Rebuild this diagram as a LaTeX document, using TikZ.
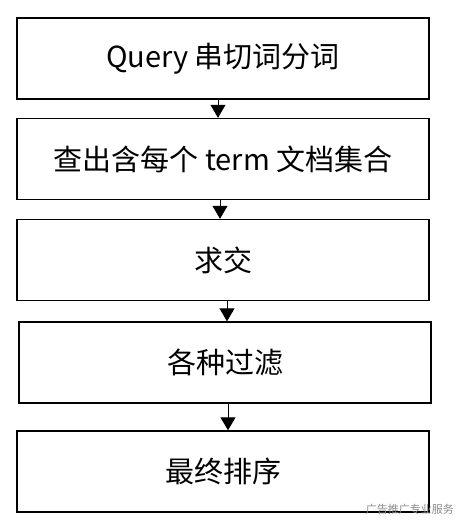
\documentclass[tikz,border=0pt]{standalone}
\usepackage{fontspec}
\newfontfamily\cjk{Noto Sans CJK SC}
\usetikzlibrary{arrows.meta}
\begin{document}
\begin{tikzpicture}[x=1pt,y=-1pt,
  stepbox/.style={draw=black,line width=1.4pt,minimum width=412pt,minimum height=81pt,inner sep=0pt,font=\cjk\fontsize{29pt}{32pt}\selectfont},
  flow/.style={line width=1pt,-{Triangle[width=15pt,length=13pt]}}]
\useasboundingbox[fill=white] (0,0) rectangle (466,529);
\node[stepbox] (b1) at (223,58.5) {Query 串切词分词};
\node[stepbox] (b2) at (223,159) {查出含每个 term 文档集合};
\node[stepbox] (b3) at (223,260) {求交};
\node[stepbox] (b4) at (225,362.5) {各种过滤};
\node[stepbox] (b5) at (223,471.5) {最终排序};
\draw[flow] ([xshift=-5pt]b1.south) -- ([xshift=-5pt]b2.north);
\draw[flow] ([xshift=-3pt]b2.south) -- ([xshift=-3pt]b3.north);
\draw[flow] ([xshift=4pt]b3.south) -- ([xshift=2pt]b4.north);
\draw[flow] ([xshift=3pt]b4.south) -- ([xshift=5pt]b5.north);
\node[anchor=east,text=black!45,font=\cjk\fontsize{11pt}{12pt}\selectfont,inner sep=0pt] (wm) at (454,509) {广告推广专业服务};
\end{tikzpicture}
\end{document}
